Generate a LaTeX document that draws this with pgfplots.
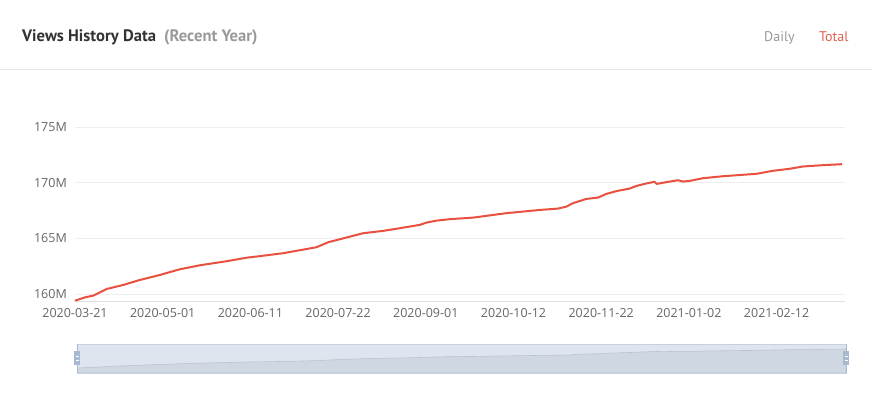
\documentclass[border=0pt]{standalone}
\usepackage{fontspec}
\usepackage{pgfplots}
\usepackage{pgfplotstable}
\pgfplotsset{compat=1.18}
\setmainfont{Open Sans}
\newfontfamily\hdr{PT Sans}
\definecolor{linered}{HTML}{E8513F}
\definecolor{totalred}{HTML}{E06050}
\definecolor{ticktxt}{HTML}{666666}
\definecolor{gridgray}{HTML}{EEEEEE}
\definecolor{axisgray}{HTML}{E0E0E0}
\definecolor{sepgray}{HTML}{E6E6E6}
\definecolor{ttl}{HTML}{333333}
\definecolor{subttl}{HTML}{999999}
\definecolor{slidebg}{HTML}{DFE5EE}
\definecolor{slideborder}{HTML}{C8D2DF}
\definecolor{shadowfill}{HTML}{CFD7E2}
\definecolor{shadowline}{HTML}{B9C5D5}
\definecolor{handle}{HTML}{A9B9D0}

\pgfplotstableread{
day views
0 159.40
4.7 159.70
8.5 159.85
14.8 160.45
22.5 160.81
30.3 161.26
39.7 161.71
49 162.22
58.4 162.58
70.8 162.94
80.2 163.26
86.4 163.40
97.2 163.66
112.9 164.20
118.4 164.65
128.5 165.15
134.7 165.46
144.1 165.67
151.9 165.91
161.2 166.21
164.3 166.41
169 166.59
175.2 166.72
186.1 166.86
201.7 167.26
217.3 167.55
225.8 167.67
229.8 167.85
232.8 168.16
239.1 168.54
244.5 168.66
248.4 168.99
253.1 169.24
259.3 169.47
262.4 169.70
267 169.92
270.9 170.08
272 169.89
276.3 170.04
281.9 170.22
284.2 170.10
287.4 170.16
293.6 170.40
303 170.58
313.9 170.73
318.5 170.79
326.1 171.06
333.9 171.24
340.2 171.45
349.5 171.57
358.6 171.66
}\views

\begin{document}
\begin{tikzpicture}[x=1pt,y=1pt]
\useasboundingbox (0,0) rectangle (872,397);
\fill[white] (0,0) rectangle (872,397);
% header
\node[anchor=base west, inner sep=0pt, text=ttl, font=\hdr\bfseries\fontsize{16.6}{19}\selectfont] at (22,355) {Views History Data};
\node[anchor=base west, inner sep=0pt, text=subttl, font=\hdr\bfseries\fontsize{16.6}{19}\selectfont] at (164,355) {(Recent Year)};
\node[anchor=base west, inner sep=0pt, text=subttl, font=\hdr\fontsize{14}{16}\selectfont] at (764,355) {Daily};
\node[anchor=base west, inner sep=0pt, text=totalred, font=\hdr\fontsize{14}{16}\selectfont] at (819,355) {Total};
\draw[sepgray, line width=1pt] (0,327) -- (872,327);

\begin{axis}[
  at={(75pt,96pt)}, anchor=south west,
  scale only axis, width=770pt, height=174pt,
  xmin=0, xmax=360, ymin=159.37, ymax=175,
  axis lines*=left, axis line style={-},
  y axis line style={draw=none},
  x axis line style={draw=axisgray, line width=1pt},
  ymajorgrids, grid style={gridgray, line width=0.8pt},
  major tick length=0pt,
  ytick={160,165,170,175},
  yticklabels={160M,165M,170M,175M},
  xtick={0,41,82,123,164,205,246,287,328},
  xticklabels={2020-03-21,2020-05-01,2020-06-11,2020-07-22,2020-09-01,2020-10-12,2020-11-22,2021-01-02,2021-02-12},
  /pgf/number format/assume math mode=true,
  tick label style={font=\fontsize{12.5}{14}\selectfont, text=ticktxt},
  yticklabel style={anchor=east, inner sep=0pt, xshift=-8pt},
  xticklabel style={anchor=north, inner sep=0pt, yshift=-7pt},
  clip=false,
]
\addplot[linered, line width=2pt, line join=round] table[x=day, y=views] {\views};
\end{axis}

% data zoom slider
\fill[slidebg] (77,24) rectangle (846,53);
\begin{axis}[
  at={(77pt,24pt)}, anchor=south west,
  scale only axis, width=769pt, height=29pt,
  xmin=0, xmax=358.6, ymin=156.17, ymax=174.9,
  hide axis,
]
\addplot[fill=shadowfill, draw=shadowline, line width=0.6pt] table[x=day, y=views] {\views} \closedcycle;
\end{axis}
\draw[slideborder, line width=0.8pt] (77,24) rectangle (846,53);
\foreach \hx in {77,846} {
  \draw[handle, line width=1pt] (\hx,24) -- (\hx,53);
  \fill[handle] (\hx-3,32) rectangle (\hx+3,46);
  \draw[white, line width=0.6pt] (\hx-1.5,37) -- (\hx+1.5,37);
  \draw[white, line width=0.6pt] (\hx-1.5,41) -- (\hx+1.5,41);
}
\end{tikzpicture}
\end{document}
